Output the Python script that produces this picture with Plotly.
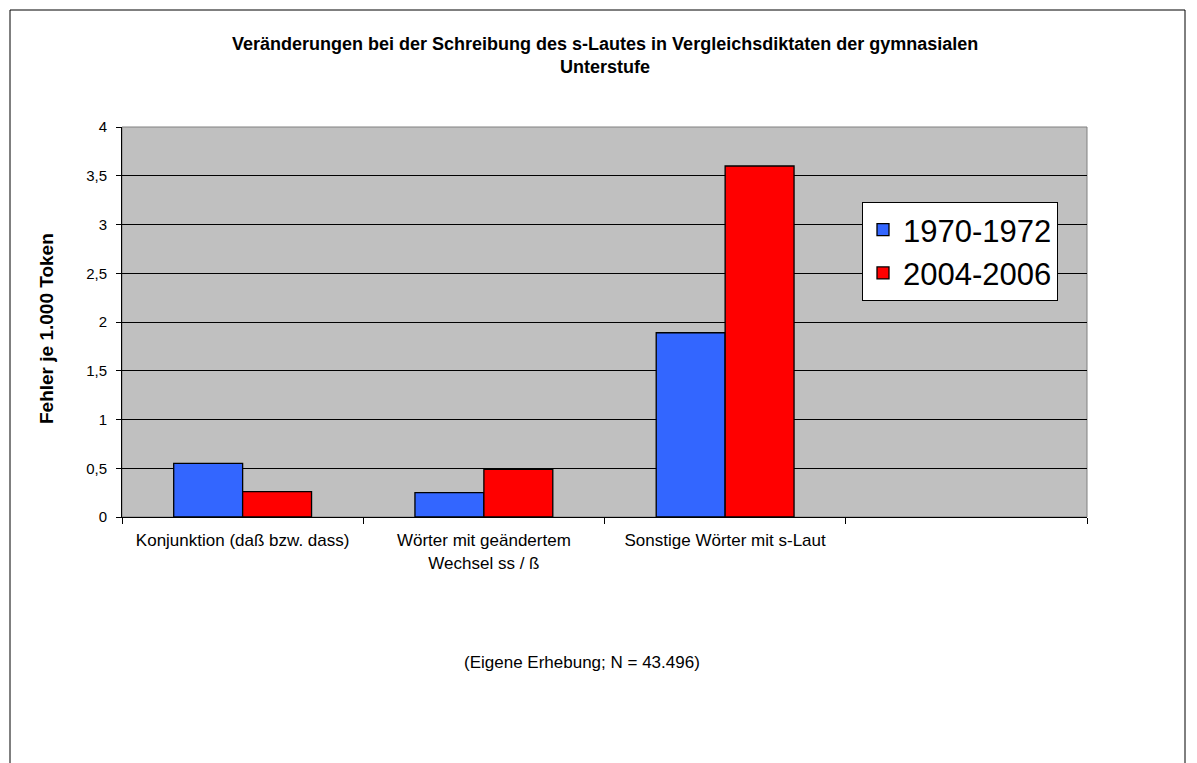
import plotly.graph_objects as go

categories = ["Konjunktion (daß bzw. dass)", "Wörter mit geändertem<br>Wechsel ss / ß",
              "Sonstige Wörter mit s-Laut", " "]
series_names = ["1970-1972", "2004-2006"]
values_1970 = [0.55, 0.25, 1.89, None]
values_2004 = [0.26, 0.49, 3.60, None]
colors = ["#3366FF", "#FF0000"]
y_ticks = [0, 0.5, 1, 1.5, 2, 2.5, 3, 3.5, 4]
y_ticklabels = ["0", "0,5", "1", "1,5", "2", "2,5", "3", "3,5", "4"]

W, H = 1197, 763
OFF = 8  # default page body margin
L, R, T, B = 122, 1087, 127, 517  # plot area in page pixels

fig = go.Figure()
for name, vals, col in zip(series_names, [values_1970, values_2004], colors):
    fig.add_trace(go.Bar(x=categories, y=vals, name=name,
                         marker=dict(color=col, line=dict(color="black", width=1.3))))

def px(x):
    return (x - L) / (R - L)

def py(y):
    return (B - y) / (B - T)

FONT = "Liberation Sans, Arial"

fig.update_layout(
    width=W - OFF, height=H - OFF,
    margin=dict(l=L - OFF, r=W - R, t=T - OFF, b=H - B, autoexpand=False),
    paper_bgcolor="white", plot_bgcolor="#C0C0C0",
    barmode="group", bargap=1.5 / 3.5, bargroupgap=0,
    font=dict(family=FONT, color="black", size=15),
    showlegend=True,
    legend=dict(x=px(862), y=py(202), xanchor="left", yanchor="top",
                bgcolor="white", bordercolor="black", borderwidth=1,
                font=dict(size=31, family=FONT)),
    xaxis=dict(type="category", categoryarray=categories, categoryorder="array",
               range=[-0.5, 3.5], tickson="boundaries", ticks="outside", ticklen=6,
               tickcolor="black", showline=True, linecolor="black", linewidth=1,
               showgrid=False, tickfont=dict(size=17), tickangle=0,
               ticklabelstandoff=8),
    yaxis=dict(range=[0, 4], tickvals=y_ticks, ticktext=y_ticklabels,
               ticks="outside", ticklen=5, tickcolor="black",
               showline=True, linecolor="black", linewidth=1,
               showgrid=True, gridcolor="black", gridwidth=1, zeroline=False,
               tickfont=dict(size=15), ticklabelstandoff=6),
)

# title
fig.add_annotation(text="<b>Veränderungen bei der Schreibung des s-Lautes in Vergleichsdiktaten der gymnasialen<br>Unterstufe</b>",
                   xref="paper", yref="paper", x=px(605), y=py(56), showarrow=False,
                   xanchor="center", yanchor="middle", font=dict(size=18))
# y-axis title
fig.add_annotation(text="<b>Fehler je 1.000 Token</b>", xref="paper", yref="paper",
                   x=px(46), y=py(329), showarrow=False, textangle=-90,
                   xanchor="center", yanchor="middle", font=dict(size=19))

# plot area border (gray)
fig.add_shape(type="rect", xref="paper", yref="paper", x0=0, y0=0, x1=1, y1=1,
              line=dict(color="#808080", width=1), layer="below")
# outer chart border
fig.add_shape(type="rect", xref="paper", yref="paper",
              x0=px(10), x1=px(1185), y0=py(10), y1=py(790),
              line=dict(color="black", width=1))

fig.add_annotation(text="(Eigene Erhebung; N = 43.496)", xref="paper", yref="paper",
                   x=px(582), y=py(662), showarrow=False, xanchor="center", yanchor="middle",
                   font=dict(size=17))

fig.write_html("out.html")
